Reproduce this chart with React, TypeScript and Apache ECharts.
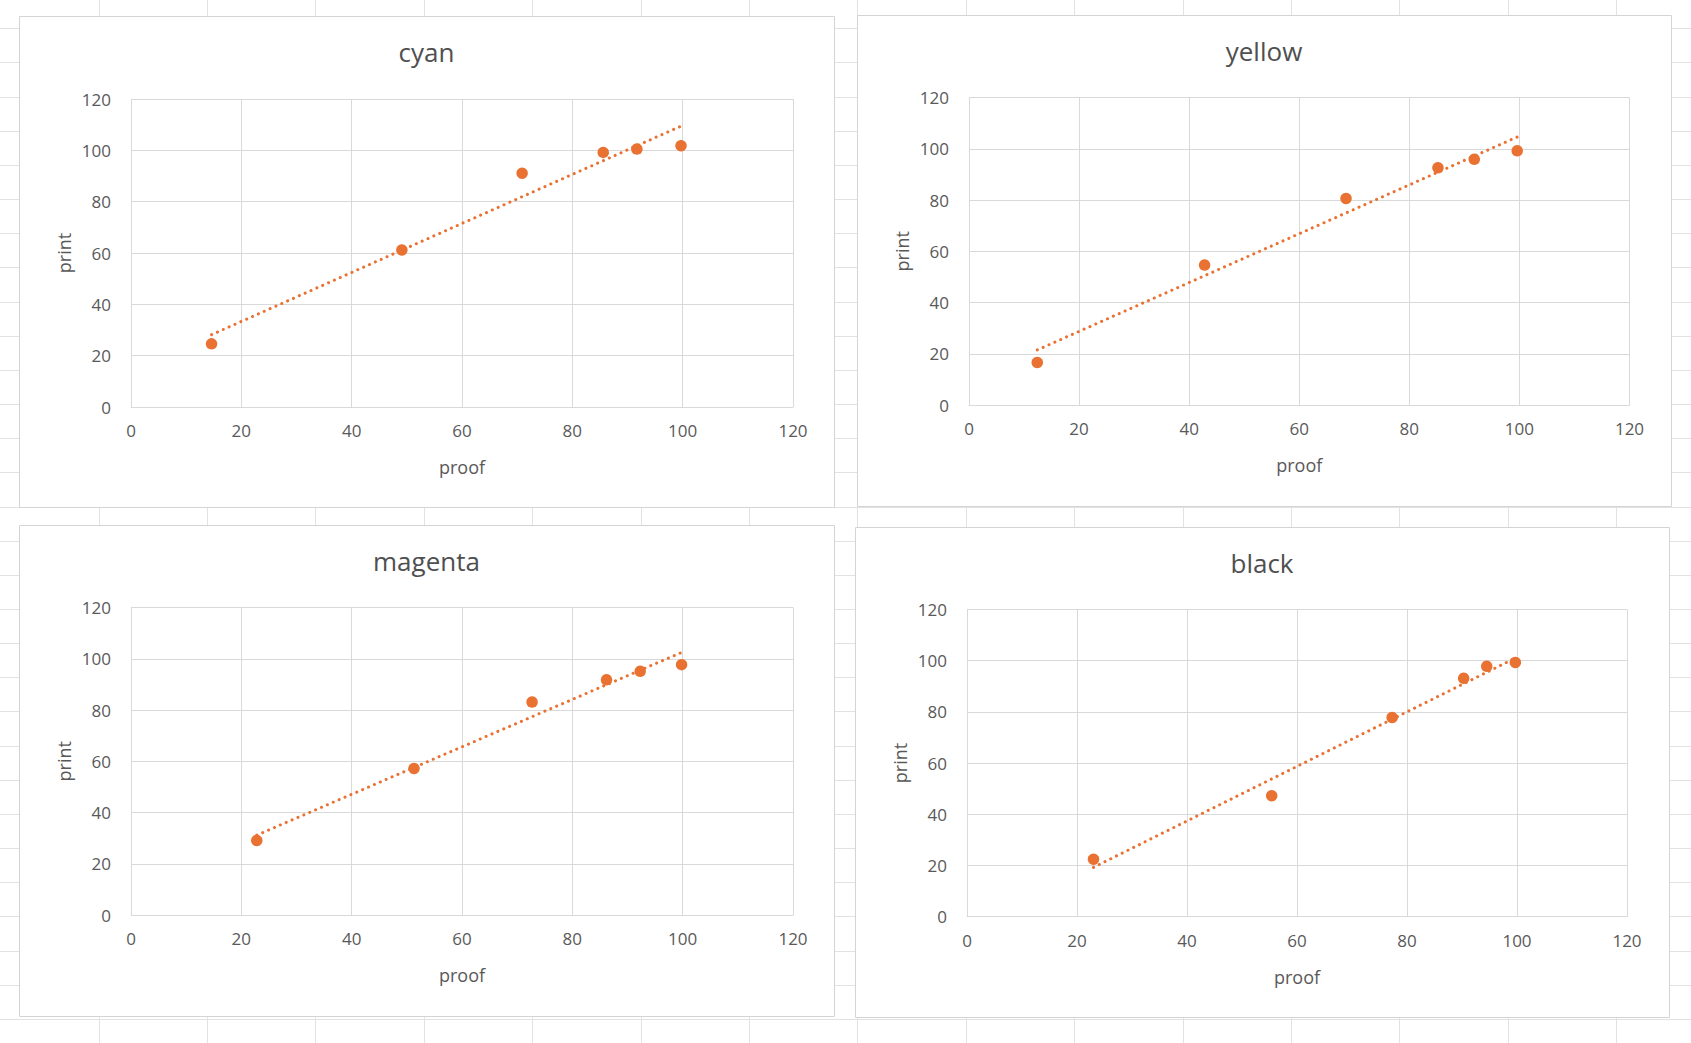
import React, { useEffect, useRef } from "react";
import * as echarts from "echarts";

// ---- data ----
const chartTitles = ["cyan", "yellow", "magenta", "black"];
const xAxisName = "proof";
const yAxisName = "print";

const cyanProof = [14.6, 49.1, 70.9, 85.6, 91.7, 99.7];
const cyanPrint = [24.6, 61.2, 91.1, 99.2, 100.5, 101.8];

const yellowProof = [12.4, 42.8, 68.5, 85.2, 91.8, 99.6];
const yellowPrint = [16.6, 54.6, 80.6, 92.6, 95.9, 99.2];

const magentaProof = [22.8, 51.3, 72.7, 86.2, 92.3, 99.8];
const magentaPrint = [29.1, 57.2, 83.1, 91.8, 95.1, 97.7];

const blackProof = [23.0, 55.4, 77.3, 90.3, 94.5, 99.7];
const blackPrint = [22.4, 47.2, 77.8, 93.1, 97.8, 99.3];

const axisMin = 0;
const axisMax = 120;
const axisStep = 20;

// ---- layout / style ----
const W = 1691;
const H = 1043;
const FONT = "'Open Sans', 'Noto Sans', sans-serif";
const TEXT = "#595959";
const ORANGE = "#E97132";
const GRID_LINE = "#d9d9d9";

const panels = [
  { x: 19, y: 16, w: 815, h: 491 },
  { x: 857, y: 15, w: 814, h: 491 },
  { x: 19, y: 525, w: 815, h: 491 },
  { x: 855, y: 527, w: 814, h: 490 },
];
const plots = [
  { left: 131, top: 99, width: 662, height: 308 },
  { left: 969, top: 97.5, width: 660.5, height: 307.5 },
  { left: 131, top: 607.5, width: 662, height: 307.5 },
  { left: 967, top: 609.5, width: 660, height: 307 },
];

function fit(xs: number[], ys: number[]) {
  const n = xs.length;
  const mx = xs.reduce((a, b) => a + b, 0) / n;
  const my = ys.reduce((a, b) => a + b, 0) / n;
  let sxy = 0;
  let sxx = 0;
  for (let i = 0; i < n; i++) {
    sxy += (xs[i] - mx) * (ys[i] - my);
    sxx += (xs[i] - mx) * (xs[i] - mx);
  }
  const b = sxy / sxx;
  const a = my - b * mx;
  const x0 = Math.min(...xs);
  const x1 = Math.max(...xs);
  return [
    [x0, a + b * x0],
    [x1, a + b * x1],
  ];
}

export default function App() {
  const ref = useRef<HTMLDivElement>(null);
  useEffect(() => {
    if (!ref.current) return;
    const chart = echarts.init(ref.current, undefined, { renderer: "svg" });
    const sets = [
      [cyanProof, cyanPrint],
      [yellowProof, yellowPrint],
      [magentaProof, magentaPrint],
      [blackProof, blackPrint],
    ];

    const graphic: any[] = [];
    // spreadsheet cell lines
    for (let k = 0; k < 32; k++) {
      const y = Math.round(28.3 + 34.16 * k) + 0.5;
      if (y > H) break;
      graphic.push({
        type: "line",
        z: -10,
        silent: true,
        shape: { x1: 0, y1: y, x2: W, y2: y },
        style: { stroke: "#e2e2e2", lineWidth: 1 },
      });
    }
    for (let k = 0; k < 17; k++) {
      const x = Math.round(98.6 + 108.4 * k) + 0.5;
      if (x > W) break;
      graphic.push({
        type: "line",
        z: -10,
        silent: true,
        shape: { x1: x, y1: 0, x2: x, y2: H },
        style: { stroke: "#e2e2e2", lineWidth: 1 },
      });
    }
    panels.forEach((p, i) => {
      graphic.push({
        type: "rect",
        z: -5,
        silent: true,
        shape: { x: p.x + 0.5, y: p.y + 0.5, width: p.w, height: p.h },
        style: { fill: "#ffffff", stroke: "#d4d4d4", lineWidth: 1 },
      });
      graphic.push({
        type: "text",
        z: 5,
        x: p.x + p.w / 2,
        y: p.y + 36,
        style: {
          text: chartTitles[i],
          fill: "#4f4f4f",
          fontSize: 26,
          fontFamily: FONT,
          align: "center",
          verticalAlign: "middle",
        },
      });
    });

    const option: any = {
      animation: false,
      backgroundColor: "#ffffff",
      textStyle: { fontFamily: FONT },
      graphic,
      grid: plots.map((g) => ({ ...g, containLabel: false })),
      xAxis: plots.map((_, i) => ({
        type: "value",
        gridIndex: i,
        min: axisMin,
        max: axisMax,
        interval: axisStep,
        name: xAxisName,
        nameLocation: "middle",
        nameGap: 51,
        nameTextStyle: { fontSize: 18, color: TEXT, fontFamily: FONT },
        axisLine: { show: true, lineStyle: { color: GRID_LINE, width: 1 } },
        axisTick: { show: false },
        axisLabel: { margin: 15, fontSize: 17, color: TEXT, fontFamily: FONT },
        splitLine: { show: true, lineStyle: { color: GRID_LINE, width: 1 } },
      })),
      yAxis: plots.map((_, i) => ({
        type: "value",
        gridIndex: i,
        min: axisMin,
        max: axisMax,
        interval: axisStep,
        name: yAxisName,
        nameLocation: "middle",
        nameGap: 58,
        nameTextStyle: { fontSize: 18, color: TEXT, fontFamily: FONT },
        axisLine: { show: false },
        axisTick: { show: false },
        axisLabel: { margin: 20, fontSize: 17, color: TEXT, fontFamily: FONT },
        splitLine: { show: true, lineStyle: { color: GRID_LINE, width: 1 } },
      })),
      series: sets.flatMap(([xs, ys], i) => [
        {
          type: "line",
          name: chartTitles[i] + " trend",
          xAxisIndex: i,
          yAxisIndex: i,
          data: fit(xs, ys),
          showSymbol: false,
          silent: true,
          z: 2,
          lineStyle: { color: ORANGE, width: 3, type: [0.1, 6.3], cap: "round" },
        },
        {
          type: "scatter",
          name: chartTitles[i],
          xAxisIndex: i,
          yAxisIndex: i,
          data: xs.map((x, j) => [x, ys[j]]),
          symbol: "circle",
          symbolSize: 11.5,
          z: 3,
          itemStyle: { color: ORANGE, opacity: 1 },
        },
      ]),
    };
    chart.setOption(option);
    return () => chart.dispose();
  }, []);
  return (
    <div
      ref={ref}
      style={{ position: "fixed", left: 0, top: 0, width: W, height: H }}
    />
  );
}
